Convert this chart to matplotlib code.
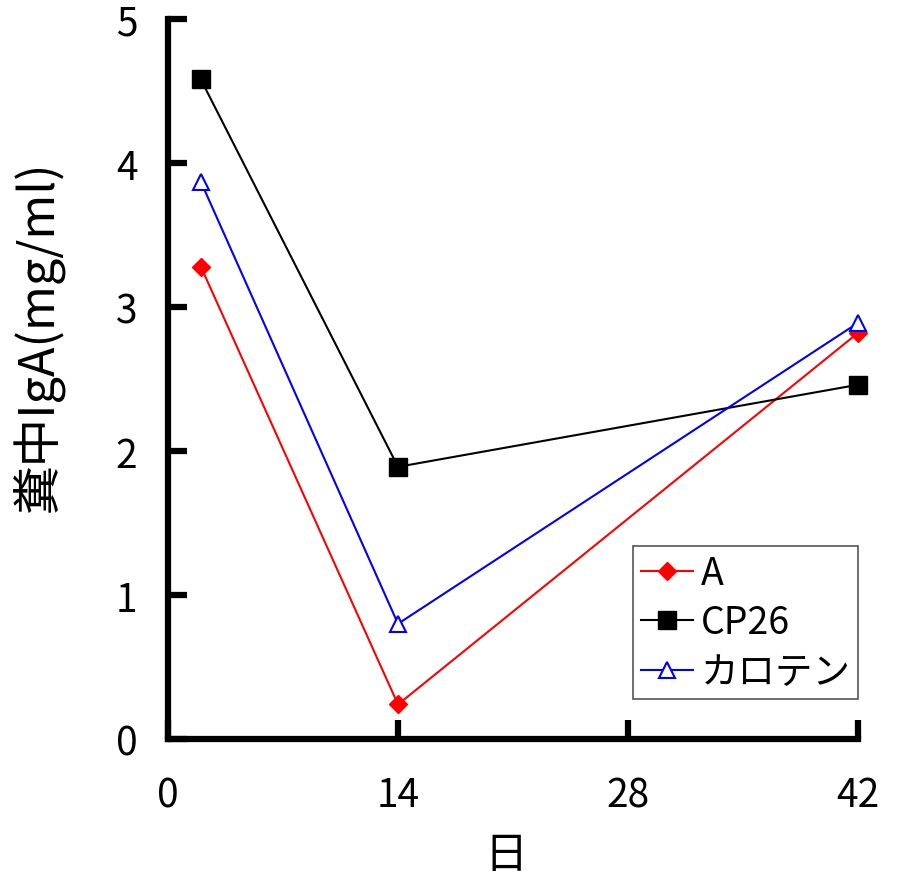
import matplotlib
matplotlib.use('Agg')
import matplotlib.pyplot as plt

plt.rcParams['font.family'] = ['Noto Sans CJK JP', 'DejaVu Sans']

days = [2, 14, 42]
iga_a = [3.28, 0.24, 2.82]
iga_cp26 = [4.58, 1.89, 2.46]
iga_carotene = [3.87, 0.80, 2.89]
xticks = [0, 14, 28, 42]
yticks = [0, 1, 2, 3, 4, 5]

fig = plt.figure(figsize=(8.99, 8.79), dpi=100)
ax = fig.add_axes([168 / 899, 139 / 879, 690 / 899, 720 / 879])

ax.plot(days, iga_a, color='red', marker='D', markersize=9.5, lw=1.5,
        clip_on=False, zorder=3, label='A')
ax.plot(days, iga_cp26, color='black', marker='s', markersize=13, lw=1.5,
        clip_on=False, zorder=3, label='CP26')
ax.plot(days, iga_carotene, color='blue', marker='^', markersize=12, lw=1.5,
        markerfacecolor='white', markeredgewidth=1.5, clip_on=False, zorder=3,
        label='カロテン')

ax.set_xlim(0, 42)
ax.set_ylim(0, 5)
ax.set_xticks(xticks)
ax.set_yticks(yticks)
for s in ['top', 'right']:
    ax.spines[s].set_visible(False)
for s in ['left', 'bottom']:
    ax.spines[s].set_linewidth(4.5)
    ax.spines[s].set_capstyle('projecting')
ax.tick_params(direction='in', length=14, width=4.5, labelsize=28)
ax.tick_params(axis='x', pad=26)
ax.tick_params(axis='y', pad=22)

ax.set_xlabel('日', fontsize=31)
ax.xaxis.set_label_coords(0.49, -0.13)
ax.set_ylabel('糞中IgA(mg/ml)', fontsize=35)
ax.yaxis.set_label_coords(-0.15, 0.56)

leg = ax.legend(loc='lower right', bbox_to_anchor=(1.0, 0.055), fontsize=27,
                handlelength=1.4, borderpad=0.2, labelspacing=0.28,
                handletextpad=0.2, borderaxespad=0.0, fancybox=False, framealpha=1)
leg.get_frame().set_edgecolor('#555555')
leg.get_frame().set_linewidth(1.2)

fig.savefig('out.png', dpi=100)
